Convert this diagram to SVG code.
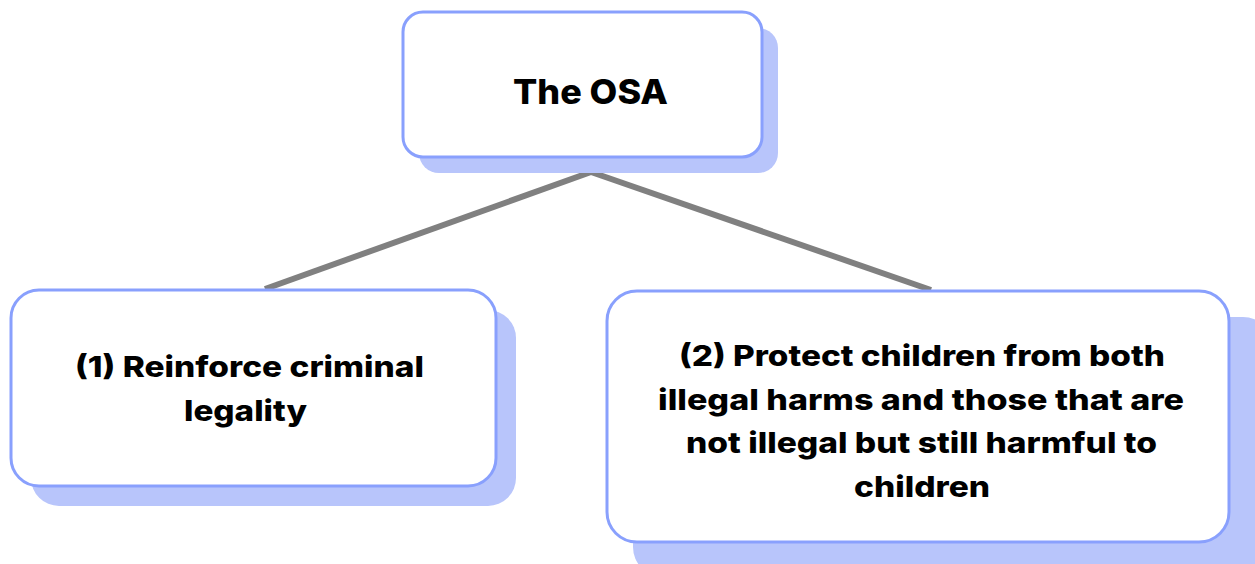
<svg xmlns="http://www.w3.org/2000/svg" width="1255" height="564" viewBox="0 0 1255 564">
<style>
.shadow{fill:#b8c5fb}
.box{fill:#ffffff;stroke:#89a0fd;stroke-width:3}
.lbl{font-family:Inter,"Noto Sans","Liberation Sans",sans-serif;font-weight:800;fill:#000;text-anchor:middle}
.edge{stroke:#808080;stroke-width:6;fill:none}
</style>
<rect width="1255" height="564" fill="#ffffff"/>
<g id="connectors">
<line class="edge" x1="591" y1="172" x2="265" y2="289"/>
<line class="edge" x1="591" y1="172" x2="931" y2="290"/>
</g>
<g id="node-osa">
<rect class="shadow" x="419" y="28" width="359" height="145" rx="20"/>
<rect class="box" x="403" y="12" width="359" height="145" rx="20"/>
<text class="lbl" x="590.5" y="104" font-size="34" textLength="155" lengthAdjust="spacingAndGlyphs">The OSA</text>
</g>
<g id="node-1">
<rect class="shadow" x="31" y="310" width="485" height="196" rx="28"/>
<rect class="box" x="11" y="290" width="485" height="196" rx="28"/>
<text class="lbl" font-size="29"><tspan x="249.5" y="377" textLength="349" lengthAdjust="spacingAndGlyphs">(1) Reinforce criminal</tspan><tspan x="245.5" y="421" textLength="123" lengthAdjust="spacingAndGlyphs">legality</tspan></text>
</g>
<g id="node-2">
<rect class="shadow" x="633" y="317" width="640" height="260" rx="30"/>
<rect class="box" x="607" y="291" width="622" height="251" rx="30"/>
<text class="lbl" font-size="29"><tspan x="922" y="366" textLength="486" lengthAdjust="spacingAndGlyphs">(2) Protect children from both</tspan><tspan x="921" y="410" textLength="526" lengthAdjust="spacingAndGlyphs">illegal harms and those that are</tspan><tspan x="921.5" y="453" textLength="471" lengthAdjust="spacingAndGlyphs">not illegal but still harmful to</tspan><tspan x="922" y="497" textLength="136" lengthAdjust="spacingAndGlyphs">children</tspan></text>
</g>
</svg>
